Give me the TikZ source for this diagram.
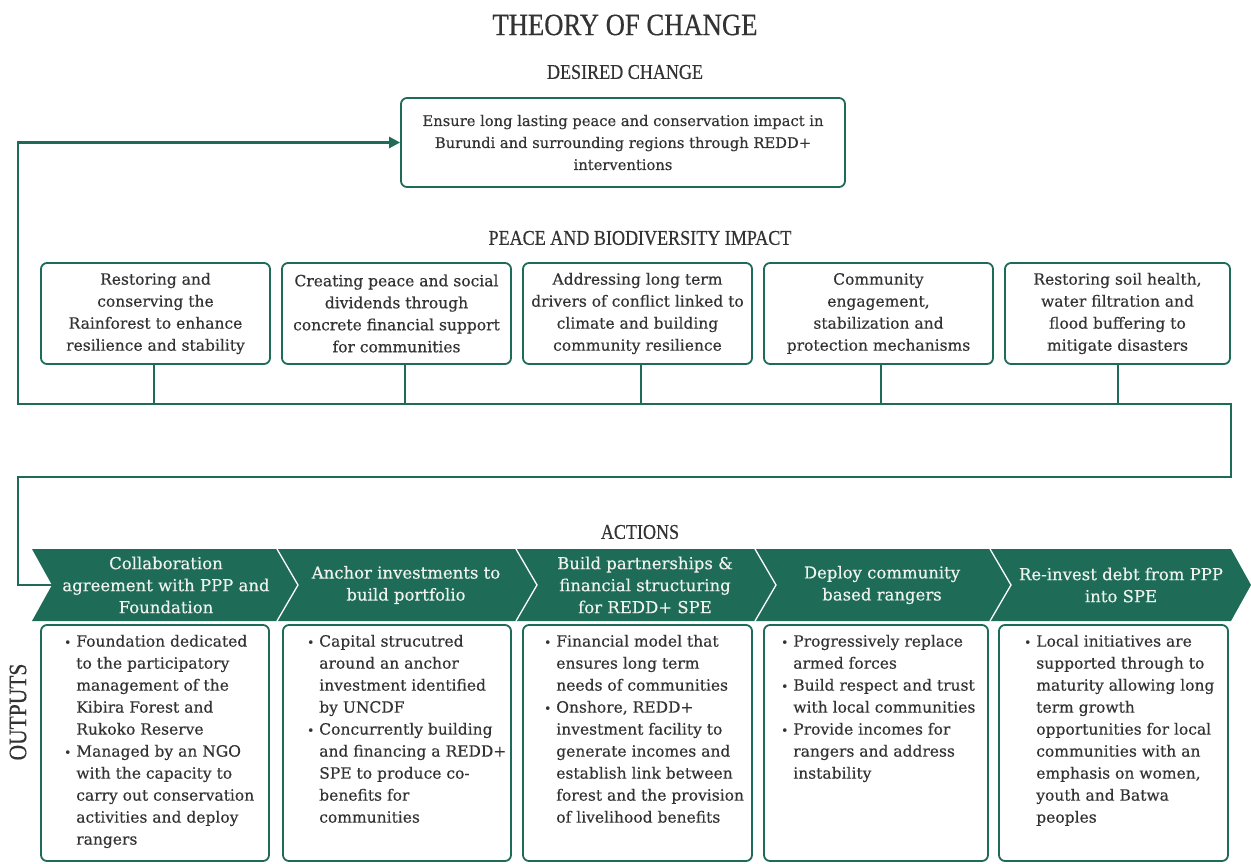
\documentclass[tikz,border=0pt]{standalone}
\usepackage{graphicx}
\usepackage{fontspec}
\setmainfont{DejaVu Serif}[FakeBold=0.4]
\newfontfamily\headfont{Liberation Serif}[FakeBold=0.5]
\usetikzlibrary{arrows.meta}
\definecolor{tg}{HTML}{1E6B57}
\definecolor{txt}{HTML}{333333}
\definecolor{cream}{HTML}{EEF3EE}
\newcommand{\hd}[2]{\scalebox{0.86}[1]{\headfont\fontsize{#1}{#1}\selectfont #2}}
\newcommand{\mybul}{{\fontsize{12}{12}\selectfont\textbullet}}
\newcommand{\outtab}[1]{{\fontsize{15.5}{22}\selectfont\begin{tabular}{@{}l@{\hspace{5pt}}l@{}}#1\end{tabular}}}
\begin{document}
\begin{tikzpicture}[x=1pt,y=-1pt,
  box/.style={draw=tg, line width=1.8pt, rounded corners=6pt, fill=white, inner sep=0pt, text=txt, align=center, font=\fontsize{15.5}{22}\selectfont},
  impbox/.style={box, minimum width=229pt, minimum height=101pt},
  outbox/.style={box, minimum height=236pt},
  flow/.style={draw=tg, line width=2.6pt},
  head/.style={text=txt, inner sep=0pt},
  acttxt/.style={text=cream, align=center, inner sep=0pt, font=\fontsize{16.5}{22}\selectfont},
  outtxt/.style={text=txt, anchor=north west, inner sep=0pt, align=left}]
\fill[white] (0,0) rectangle (1251,863);
\useasboundingbox (0,0) rectangle (1251,863);

% headings
\node[head] (title) at (625,25) {\hd{31}{THEORY OF CHANGE}};
\node[head] (hdesired) at (625,72) {\hd{21}{DESIRED CHANGE}};
\node[head] (himpact) at (640,238) {\hd{21}{PEACE AND BIODIVERSITY IMPACT}};
\node[head] (hactions) at (640,532) {\hd{21}{ACTIONS}};
\node[head, rotate=90] (houtputs) at (18,712) {\hd{25}{OUTPUTS}};

% desired change
\node[box, minimum width=444pt, minimum height=89pt, font=\fontsize{14.7}{22}\selectfont] (desired) at (623,142.5)
  {Ensure long lasting peace and conservation impact in\\Burundi and surrounding regions through REDD+\\interventions};

% impact boxes
\node[impbox] (imp1) at (155.5,313.5) {Restoring and\\conserving the\\Rainforest to enhance\\resilience and stability};
\node[impbox] (imp2) at (396.5,313.5) {Creating peace and social\\dividends through\\concrete financial support\\for communities};
\node[impbox] (imp3) at (637.5,313.5) {Addressing long term\\drivers of conflict linked to\\climate and building\\community resilience};
\node[impbox] (imp4) at (878.5,313.5) {Community\\engagement,\\stabilization and\\protection mechanisms};
\node[impbox, minimum width=225pt] (imp5) at (1117.5,313.5) {Restoring soil health,\\water filtration and\\flood buffering to\\mitigate disasters};

% bus connectors
\coordinate (busL) at (18,404);
\coordinate (busR) at (1231,404);
\coordinate (j1) at (154,404);
\coordinate (j2) at (405,404);
\coordinate (j3) at (641,404);
\coordinate (j4) at (881,404);
\coordinate (j5) at (1118,404);
\coordinate (r1) at (1231,477);
\coordinate (l1) at (18,477);
\coordinate (notch) at (52,585);
\foreach \i in {1,...,5}{\draw[flow] (imp\i.south -| j\i) -- (j\i);}
\draw[flow, line cap=rect] (busL) -- (busR);
\draw[flow, -{Triangle[length=11pt,width=11pt]}] (busL) |- (desired.west);
\draw[flow, line cap=rect] (busR) -- (r1) -- (l1) |- (notch);

% action chevron band
\fill[tg] (32,549) -- (1231,549) -- (1251,585) -- (1231,621) -- (32,621) -- (52,585) -- cycle;
\foreach \sx in {277,516,755,990}{
  \draw[white, line width=1.3pt] (\sx,549) -- (\sx+21,585) -- (\sx,621);
}
\node[acttxt] (act1) at (166,585) {Collaboration\\agreement with PPP and\\Foundation};
\node[acttxt] (act2) at (406,585) {Anchor investments to\\build portfolio};
\node[acttxt] (act3) at (645,585) {Build partnerships \&\\financial structuring\\for REDD+ SPE};
\node[acttxt] (act4) at (882,585) {Deploy community\\based rangers};
\node[acttxt] (act5) at (1121,585) {Re-invest debt from PPP\\into SPE};

% output boxes
\node[outbox, minimum width=228pt] (out1) at (155,743) {};
\node[outbox, minimum width=228pt] (out2) at (397,743) {};
\node[outbox, minimum width=229pt] (out3) at (637.5,743) {};
\node[outbox, minimum width=224pt] (out4) at (876,743) {};
\node[outbox, minimum width=229pt] (out5) at (1113.5,743) {};

\node[outtxt] (out1t) at (64,631) {\outtab{\mybul & Foundation dedicated\\ & to the participatory\\ & management of the\\ & Kibira Forest and\\ & Rukoko Reserve\\ \mybul & Managed by an NGO\\ & with the capacity to\\ & carry out conservation\\ & activities and deploy\\ & rangers}};
\node[outtxt] (out2t) at (307,631) {\outtab{\mybul & Capital strucutred\\ & around an anchor\\ & investment identified\\ & by UNCDF\\ \mybul & Concurrently building\\ & and financing a REDD+\\ & SPE to produce co-\\ & benefits for\\ & communities}};
\node[outtxt] (out3t) at (544,631) {\outtab{\mybul & Financial model that\\ & ensures long term\\ & needs of communities\\ \mybul & Onshore, REDD+\\ & investment facility to\\ & generate incomes and\\ & establish link between\\ & forest and the provision\\ & of livelihood benefits}};
\node[outtxt] (out4t) at (781,631) {\outtab{\mybul & Progressively replace\\ & armed forces\\ \mybul & Build respect and trust\\ & with local communities\\ \mybul & Provide incomes for\\ & rangers and address\\ & instability}};
\node[outtxt] (out5t) at (1024,631) {\outtab{\mybul & Local initiatives are\\ & supported through to\\ & maturity allowing long\\ & term growth\\ & opportunities for local\\ & communities with an\\ & emphasis on women,\\ & youth and Batwa\\ & peoples}};
\end{tikzpicture}
\end{document}
